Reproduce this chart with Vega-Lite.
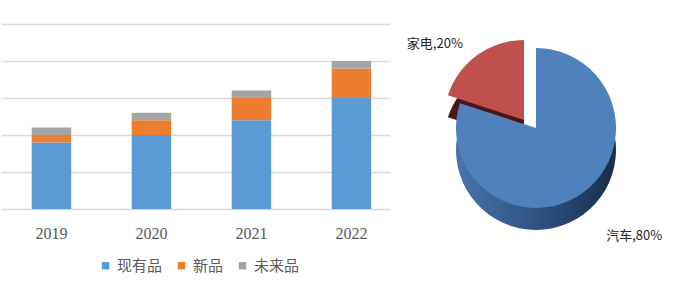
{
  "$schema": "https://vega.github.io/schema/vega-lite/v6.json",
  "padding": {"left": 1, "top": 24, "right": 0, "bottom": 0},
  "background": "white",
  "config": {
    "view": {"stroke": null},
    "font": "Liberation Sans Narrow, Noto Sans CJK SC",
    "concat": {"spacing": 10}
  },
  "hconcat": [
    {
      "width": 389,
      "height": 185,
      "data": {
        "values": [
          {"year": "2019", "type": "现有品", "seq": 1, "value": 1.8},
          {"year": "2019", "type": "新品", "seq": 2, "value": 0.2},
          {"year": "2019", "type": "未来品", "seq": 3, "value": 0.2},
          {"year": "2020", "type": "现有品", "seq": 1, "value": 2.0},
          {"year": "2020", "type": "新品", "seq": 2, "value": 0.4},
          {"year": "2020", "type": "未来品", "seq": 3, "value": 0.2},
          {"year": "2021", "type": "现有品", "seq": 1, "value": 2.4},
          {"year": "2021", "type": "新品", "seq": 2, "value": 0.6},
          {"year": "2021", "type": "未来品", "seq": 3, "value": 0.2},
          {"year": "2022", "type": "现有品", "seq": 1, "value": 3.0},
          {"year": "2022", "type": "新品", "seq": 2, "value": 0.8},
          {"year": "2022", "type": "未来品", "seq": 3, "value": 0.2}
        ]
      },
      "mark": {"type": "bar"},
      "encoding": {
        "x": {
          "field": "year", "type": "ordinal",
          "scale": {"paddingInner": 0.605, "paddingOuter": 0.2475, "align": 0.62},
          "axis": {"title": null, "labelAngle": 0, "ticks": false, "domain": false, "labelPadding": 16, "labelFontSize": 16, "labelColor": "#595959", "labelFont": "Liberation Sans Narrow"}
        },
        "y": {
          "field": "value", "type": "quantitative", "stack": true,
          "scale": {"domain": [0, 5]},
          "axis": {"title": null, "labels": false, "ticks": false, "domain": false, "values": [0, 1, 2, 3, 4, 5], "gridColor": "#d9d9d9", "gridWidth": 1.5}
        },
        "order": {"field": "seq", "sort": "ascending"},
        "color": {
          "field": "type", "type": "nominal",
          "sort": ["现有品", "新品", "未来品"],
          "scale": {"domain": ["现有品", "新品", "未来品"], "range": ["#5B9BD5", "#ED7D31", "#A5A5A5"]},
          "legend": {"title": null, "orient": "none", "direction": "horizontal", "legendX": 97, "legendY": 234, "symbolType": "square", "symbolSize": 55, "symbolStrokeWidth": 0, "labelFontSize": 15, "labelColor": "#595959", "columnPadding": 11, "labelOffset": 4, "labelFont": "Noto Sans CJK SC"}
        }
      }
    },
    {
      "width": 272,
      "height": 208,
      "data": {
        "values": [
          {"cat": "汽车", "value": 80, "label": "汽车,80%"},
          {"cat": "家电", "value": 20, "label": "家电,20%"}
        ]
      },
      "layer": [
        {
          "transform": [
            {"stack": "value", "groupby": [], "sort": [{"field": "value", "order": "descending"}], "as": ["v0", "v1"]},
            {"filter": "datum.cat == '家电'"}
          ],
          "mark": {"type": "arc", "outerRadius": 80, "xOffset": -12, "yOffset": 14, "fill": "#4a1816"},
          "encoding": {
            "theta": {"field": "v0", "type": "quantitative", "scale": {"domain": [0, 100]}},
            "theta2": {"field": "v1"}
          }
        },
        {
          "transform": [
            {"stack": "value", "groupby": [], "sort": [{"field": "value", "order": "descending"}], "as": ["v0", "v1"]},
            {"filter": "datum.cat == '家电'"}
          ],
          "mark": {"type": "arc", "outerRadius": 80, "xOffset": -12, "yOffset": -8, "fill": "#C0504D"},
          "encoding": {
            "theta": {"field": "v0", "type": "quantitative", "scale": {"domain": [0, 100]}},
            "theta2": {"field": "v1"}
          }
        },
        {
          "transform": [
            {"stack": "value", "groupby": [], "sort": [{"field": "value", "order": "descending"}], "as": ["v0", "v1"]},
            {"filter": "datum.cat == '汽车'"}
          ],
          "mark": {
            "type": "arc", "outerRadius": 80, "yOffset": 22,
            "fill": {"gradient": "linear", "x1": 0, "x2": 1, "y1": 0, "y2": 0,
              "stops": [{"offset": 0, "color": "#4a74aa"}, {"offset": 0.5, "color": "#2f5384"}, {"offset": 1, "color": "#1b2e4a"}]}
          },
          "encoding": {
            "theta": {"field": "v0", "type": "quantitative", "scale": {"domain": [0, 100]}},
            "theta2": {"field": "v1"}
          }
        },
        {
          "transform": [
            {"stack": "value", "groupby": [], "sort": [{"field": "value", "order": "descending"}], "as": ["v0", "v1"]},
            {"filter": "datum.cat == '汽车'"}
          ],
          "mark": {"type": "arc", "outerRadius": 80, "fill": "#4F81BD"},
          "encoding": {
            "theta": {"field": "v0", "type": "quantitative", "scale": {"domain": [0, 100]}},
            "theta2": {"field": "v1"}
          }
        },
        {
          "mark": {"type": "text", "align": "right", "baseline": "middle", "dx": -12, "fontSize": 13, "color": "#262626"},
          "encoding": {
            "theta": {"field": "value", "type": "quantitative", "stack": true, "scale": {"domain": [0, 100]}},
            "order": {"field": "value", "sort": "descending"},
            "radius": {"field": "value", "type": "quantitative", "scale": {"domain": [20, 80], "range": [104, 10], "zero": false}},
            "text": {"field": "label"},
            "opacity": {"condition": {"test": "datum.cat == '家电'", "value": 1}, "value": 0}
          }
        },
        {
          "mark": {"type": "text", "align": "left", "baseline": "middle", "dx": -8, "fontSize": 13, "color": "#262626"},
          "encoding": {
            "theta": {"field": "value", "type": "quantitative", "stack": true, "scale": {"domain": [0, 100]}},
            "order": {"field": "value", "sort": "descending"},
            "radius": {"field": "value", "type": "quantitative", "scale": {"domain": [20, 80], "range": [10, 133], "zero": false}},
            "text": {"field": "label"},
            "opacity": {"condition": {"test": "datum.cat == '汽车'", "value": 1}, "value": 0}
          }
        }
      ],
      "resolve": {"scale": {"radius": "independent"}}
    }
  ]
}
